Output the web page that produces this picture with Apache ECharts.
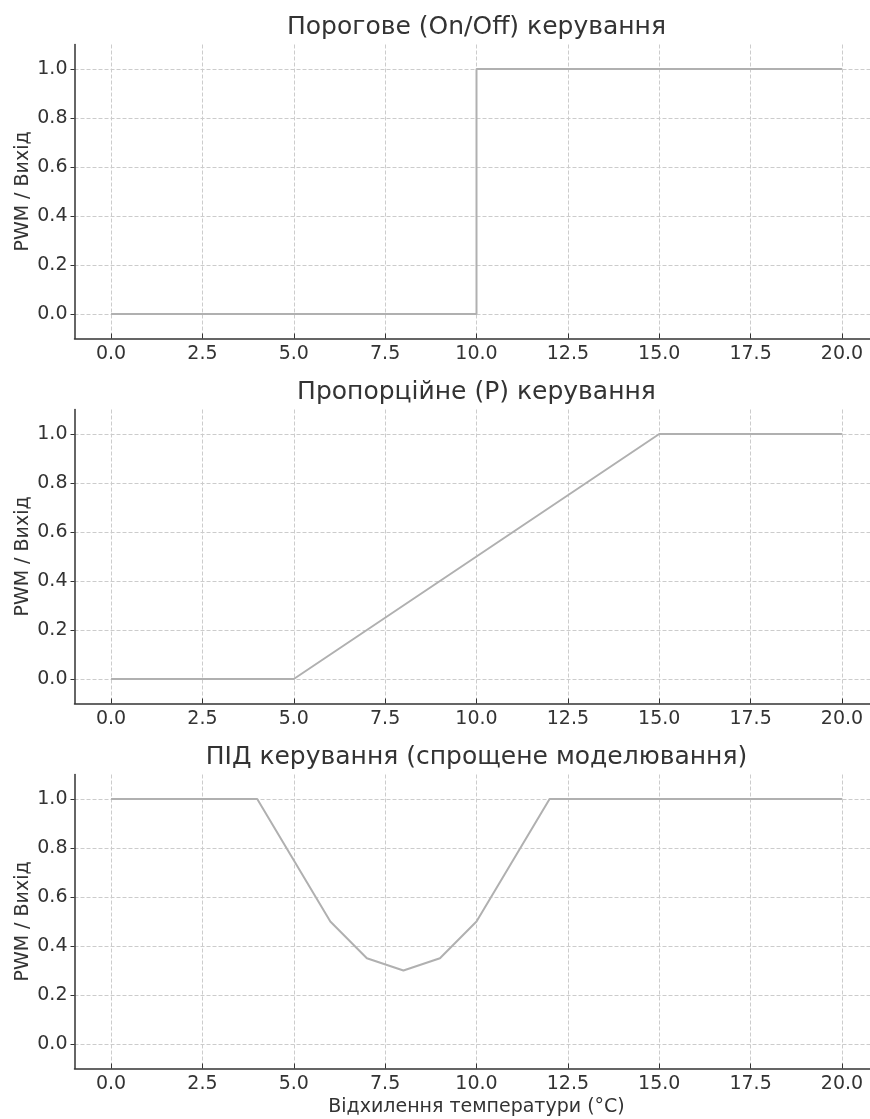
<!DOCTYPE html>
<html>
<head>
<meta charset="utf-8">
<style>
html,body{margin:0;padding:0;background:#fff;}
#chart{width:870px;height:1119px;}
</style>
<script src="https://cdn.jsdelivr.net/npm/echarts@6/dist/echarts.min.js"></script>
</head>
<body>
<div id="chart"></div>
<script>
// ---- data ----
const titles = ['Порогове (On/Off) керування', 'Пропорційне (P) керування', 'ПІД керування (спрощене моделювання)'];
const yAxisName = 'PWM / Вихід';
const xAxisName = 'Відхилення температури (°C)';
const xTicks = [0, 2.5, 5, 7.5, 10, 12.5, 15, 17.5, 20];
const yTicks = [0, 0.2, 0.4, 0.6, 0.8, 1.0];

const onoffX = [0, 10, 10, 20];
const onoffY = [0, 0, 1, 1];

const propX = [0, 5, 15, 20];
const propY = [0, 0, 1, 1];

const pidX = [0, 1, 2, 3, 4, 5, 6, 7, 8, 9, 10, 11, 12, 13, 14, 15, 16, 17, 18, 19, 20];
const pidY = [1, 1, 1, 1, 1, 0.75, 0.5, 0.35, 0.3, 0.35, 0.5, 0.75, 1, 1, 1, 1, 1, 1, 1, 1, 1];

// ---- chart ----
const FONT = 'DejaVu Sans';
const seriesXY = [[onoffX, onoffY], [propX, propY], [pidX, pidY]];
const tops = [44.5, 409.5, 774.5];
const gridH = 294;
const gridLeft = 74.5;
const gridW = 804;

const grids = [], xAxes = [], yAxes = [], series = [], titleArr = [];
tops.forEach((t, i) => {
  grids.push({left: gridLeft, top: t, width: gridW, height: gridH, containLabel: false, outerBoundsMode: 'none'});
  titleArr.push({
    text: titles[i], left: gridLeft + gridW / 2, top: t - 30, textAlign: 'center', padding: 0,
    textStyle: {fontFamily: FONT, fontSize: 25, fontWeight: 'normal', color: '#333333'}
  });
  xAxes.push({
    type: 'value', gridIndex: i, min: -1, max: 21,
    name: i === 2 ? xAxisName : '', nameLocation: 'middle', nameGap: 29, nameMoveOverlap: false,
    nameTextStyle: {fontFamily: FONT, fontSize: 19, color: '#333333'},
    axisLine: {show: true, onZero: false, lineStyle: {color: '#333333', width: 1.5}},
    axisTick: {show: true, inside: true, length: 5, customValues: xTicks, lineStyle: {color: '#333333', width: 1}},
    axisLabel: {show: true, customValues: xTicks, margin: 6, fontFamily: FONT, fontSize: 19, color: '#333333',
      formatter: v => v.toFixed(1)},
    splitLine: {show: true, lineStyle: {color: '#cccccc', width: 1, type: [4, 2]}}
  });
  yAxes.push({
    type: 'value', gridIndex: i, min: -0.1, max: 1.1,
    name: yAxisName, nameLocation: 'middle', nameGap: 42, nameMoveOverlap: false,
    nameTextStyle: {fontFamily: FONT, fontSize: 19, color: '#333333'},
    axisLine: {show: true, onZero: false, lineStyle: {color: '#333333', width: 1.5}},
    axisTick: {show: true, inside: false, length: 4, customValues: yTicks, lineStyle: {color: '#333333', width: 1}},
    axisLabel: {show: true, customValues: yTicks, margin: 7, fontFamily: FONT, fontSize: 19, color: '#333333',
      formatter: v => v.toFixed(1)},
    splitLine: {show: true, lineStyle: {color: '#cccccc', width: 1, type: [4, 2]}}
  });
  const [xs, ys] = seriesXY[i];
  series.push({
    type: 'line', xAxisIndex: i, yAxisIndex: i,
    data: xs.map((x, k) => [x, ys[k]]),
    showSymbol: false, symbol: 'none', animation: false,
    lineStyle: {color: '#b0b0b0', width: 2}
  });
});

const chart = echarts.init(document.getElementById('chart'), null, {renderer: 'canvas'});
chart.setOption({
  animation: false,
  backgroundColor: '#ffffff',
  title: titleArr,
  grid: grids,
  xAxis: xAxes,
  yAxis: yAxes,
  series: series
});
</script>
</body>
</html>
